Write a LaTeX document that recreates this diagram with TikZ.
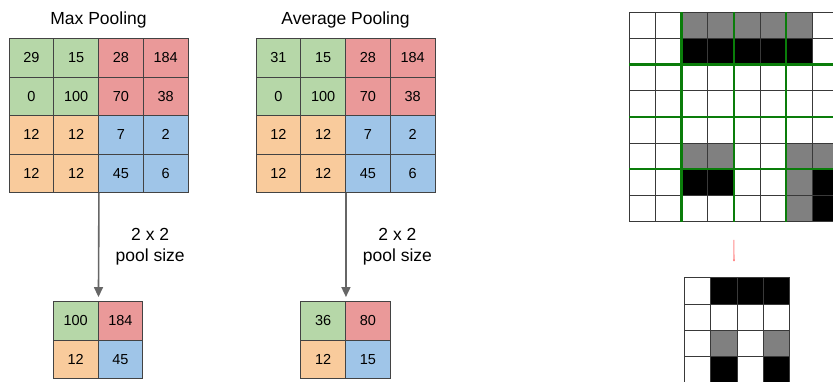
\documentclass[tikz,border=0pt]{standalone}
\usepackage{fontspec}
\setmainfont{Liberation Sans}
\usetikzlibrary{arrows.meta}

\definecolor{cellgreen}{HTML}{B6D7A8}
\definecolor{cellred}{HTML}{EA9999}
\definecolor{cellorange}{HTML}{F9CB9C}
\definecolor{cellblue}{HTML}{9FC5E8}
\definecolor{cellline}{HTML}{434343}
\definecolor{poolarrow}{HTML}{666666}
\definecolor{stridegreen}{HTML}{0A7D0A}
\definecolor{pixelgray}{HTML}{808080}

\tikzset{
  cell/.style={draw=cellline, line width=0.9pt, minimum width=44.75pt,
    minimum height=38.5pt, inner sep=0pt, font=\fontsize{14.5}{17}\selectfont},
  title/.style={font=\fontsize{17.5}{20}\selectfont},
  poolsize/.style={align=center, font=\fontsize{17.5}{21}\selectfont},
  poolarrow/.style={draw=poolarrow, line width=1.6pt,
    -{Triangle[width=9pt,length=10pt,fill=poolarrow]}, shorten >=4pt},
  pixel/.style={draw=gray!45!black, line width=0.8pt},
  stride/.style={draw=stridegreen, line width=2.5pt},
}

\begin{document}
\begin{tikzpicture}[x=1pt,y=-1pt]
    \pgfmathsetmacro{\cw}{44.75}
    \pgfmathsetmacro{\ch}{38.5}

    \useasboundingbox (0,0) rectangle (833,381);
    \clip (0,0) rectangle (833,381);

    % titles
    \node[title] (max-title) at (98.5,20) {Max Pooling};
    \node[title] (avg-title) at (345.5,20) {Average Pooling};

    % 4x4 input tables
    \foreach \name/\gx/\first in {max/9/29, avg/256/31} {
      \foreach \vals [count=\r] in {{\first,15,28,184},{0,100,70,38},{12,12,7,2},{12,12,45,6}} {
        \foreach \v [count=\c] in \vals {
          \ifnum\r<3 \ifnum\c<3 \def\fc{cellgreen}\else\def\fc{cellred}\fi
          \else \ifnum\c<3 \def\fc{cellorange}\else\def\fc{cellblue}\fi\fi
          \node[cell, fill=\fc] (\name-\r-\c) at ({\gx+(\c-0.5)*\cw},{38.5+(\r-0.5)*\ch}) {\v};
        }
      }
    }

    % 2x2 pooled tables
    \foreach \name/\gx/\pa/\pb/\pc/\pd in {max/53.25/100/184/12/45, avg/300.75/36/80/12/15} {
      \node[cell, fill=cellgreen] (\name-out-1-1) at ({\gx+0.5*\cw},{301.5+0.5*\ch}) {\pa};
      \node[cell, fill=cellred] (\name-out-1-2) at ({\gx+1.5*\cw},{301.5+0.5*\ch}) {\pb};
      \node[cell, fill=cellorange] (\name-out-2-1) at ({\gx+0.5*\cw},{301.5+1.5*\ch}) {\pc};
      \node[cell, fill=cellblue] (\name-out-2-2) at ({\gx+1.5*\cw},{301.5+1.5*\ch}) {\pd};

      % arrow and pool size label
      \draw[poolarrow] (\name-4-2.south east) -- (\name-out-1-1.north east)
        node[midway, xshift=51.5pt, poolsize] {2 x 2\\pool size};
    }

    % pixel image with 2x2 strides
    \begin{scope}[shift={(629,12)}, x=26.2pt, y=-26.2pt]
      \foreach \c/\r in {2/0,3/0,4/0,5/0,6/0,2/5,3/5,6/5,7/5,6/6,6/7}
        \fill[pixelgray] (\c,\r) rectangle ++(1,1);
      \foreach \c/\r in {2/1,3/1,4/1,5/1,6/1,2/6,3/6,7/6,7/7}
        \fill[black] (\c,\r) rectangle ++(1,1);
      \foreach \i in {0,...,8} {
        \draw[pixel] (\i,0) -- (\i,8);
        \draw[pixel] (0,\i) -- (9,\i);
      }
      \foreach \i in {2,4,6} {
        \draw[stride] (\i,0) -- (\i,8);
        \draw[stride] (0,\i) -- (9,\i);
      }
      \coordinate (pix-out) at (4,8.7);
    \end{scope}

    % pooled pixel image
    \begin{scope}[shift={(684.3,277.7)}, x=26.3pt, y=-26.3pt]
      \foreach \c/\r in {1/2,3/2}
        \fill[pixelgray] (\c,\r) rectangle ++(1,1);
      \foreach \c/\r in {1/0,2/0,3/0,1/3,3/3}
        \fill[black] (\c,\r) rectangle ++(1,1);
      \foreach \i in {0,...,4} {
        \draw[pixel] (\i,0) -- (\i,4);
        \draw[pixel] (0,\i) -- (4,\i);
      }
      \coordinate (pix-in) at (1.89,-0.63);
    \end{scope}

    % thin red link
    \draw[red!45, line width=1.1pt, -{Rectangle[length=1.8pt,width=1.8pt,fill=red!80!black]}]
      (pix-out) -- (pix-in);
\end{tikzpicture}
\end{document}
